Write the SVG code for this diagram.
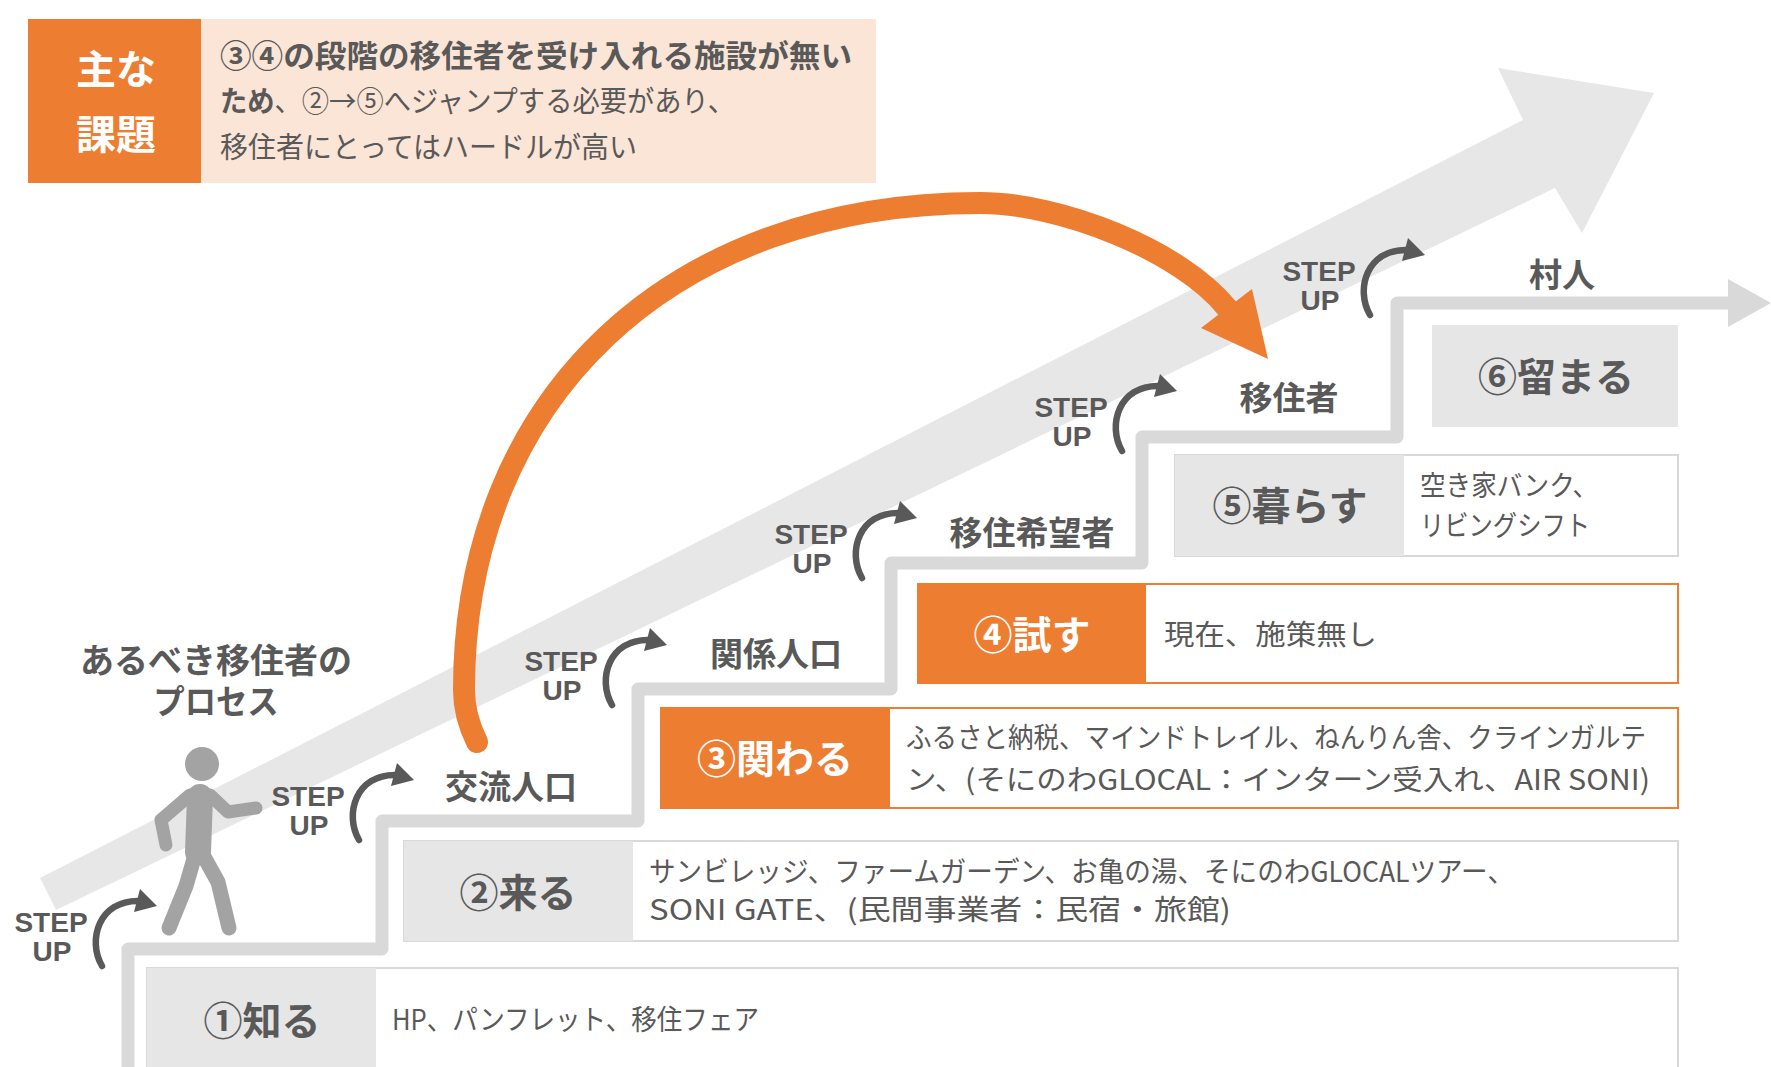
<svg xmlns="http://www.w3.org/2000/svg" xmlns:xlink="http://www.w3.org/1999/xlink" width="1771" height="1067" viewBox="0 0 1771 1067">
<style>
.jp{font-family:'Noto Sans CJK JP','Noto Sans',sans-serif}
.lbl{font-family:'Noto Sans CJK JP',sans-serif;font-weight:bold;font-size:39px;text-anchor:middle}
.stg{font-family:'Noto Sans CJK JP',sans-serif;font-weight:bold;font-size:33px;fill:#595959;text-anchor:middle}
.desc{font-family:'Noto Sans CJK JP',sans-serif;font-size:28px;fill:#595959}
.su{font-family:'Liberation Sans',Arial,sans-serif;font-weight:bold;font-size:28px;fill:#595959;text-anchor:middle}
.gbox{fill:#E6E6E6}
.wbox{fill:#FFFFFF;stroke:#D9D9D9;stroke-width:2}
.obox{fill:#ED7D31}
.owbox{fill:#FFFFFF;stroke:#ED7D31;stroke-width:2}
.sarr{fill:none;stroke:#595959;stroke-width:6.5;stroke-linecap:round}
</style>
<defs>
<g id="stepArrow">
<path class="sarr" d="M51,44 C36,18 48,-22 88,-21"/>
<polygon points="89,-33 106,-16 83,-10" fill="#595959"/>
</g>
</defs>
<rect width="1771" height="1067" fill="#FFFFFF"/>

<g id="band">
<polygon points="40,878 1523,120 1498,68 1654,93 1582,233 1555,188 56,910" fill="#E7E7E7"/>
</g>

<g id="stairs">
<path d="M128,1075 L128,949 L382,949 L382,821 L638,821 L638,689 L891,689 L891,563 L1142,563 L1142,437 L1397,437 L1397,303 L1735,303" fill="none" stroke="#D9D9D9" stroke-width="13" stroke-linejoin="round"/>
<polygon points="1728,279 1771,303 1728,327" fill="#D9D9D9"/>
</g>

<g id="issue">
<rect x="28" y="19" width="173" height="164" fill="#ED7D31"/>
<rect x="201" y="19" width="675" height="164" fill="#FBE5D6"/>
<text class="jp" x="116" y="84" font-size="40" font-weight="bold" fill="#FFFFFF" text-anchor="middle">主な</text>
<text class="jp" x="116" y="149" font-size="40" font-weight="bold" fill="#FFFFFF" text-anchor="middle">課題</text>
<text class="jp" x="220" y="67" font-size="31" font-weight="bold" fill="#595959" textLength="632" lengthAdjust="spacingAndGlyphs">③④の段階の移住者を受け入れる施設が無い</text>
<text class="jp" x="220" y="112" font-size="29" fill="#595959" textLength="515" lengthAdjust="spacingAndGlyphs"><tspan font-weight="bold">ため</tspan>、②→⑤へジャンプする必要があり、</text>
<text class="jp" x="220" y="158" font-size="29" fill="#595959" textLength="417" lengthAdjust="spacingAndGlyphs">移住者にとってはハードルが高い</text>
</g>

<g id="process-title">
<text class="jp" x="216" y="673" font-size="34" font-weight="bold" fill="#595959" text-anchor="middle">あるべき移住者の</text>
<text class="jp" x="216" y="714" font-size="34" font-weight="bold" fill="#595959" text-anchor="middle" textLength="125" lengthAdjust="spacingAndGlyphs">プロセス</text>
</g>

<g id="step1">
<rect class="wbox" x="147" y="968" width="1531" height="110"/>
<rect class="gbox" x="147" y="968" width="229" height="110"/>
<text class="lbl" x="262" y="1035" fill="#595959">①知る</text>
<text class="desc" x="392" y="1030" textLength="367" lengthAdjust="spacingAndGlyphs">HP、パンフレット、移住フェア</text>
</g>

<g id="step2">
<rect class="wbox" x="404" y="841" width="1274" height="100"/>
<rect class="gbox" x="404" y="841" width="229" height="100"/>
<text class="lbl" x="518" y="907" fill="#595959">②来る</text>
<text class="desc" x="649" y="882" textLength="865" lengthAdjust="spacingAndGlyphs">サンビレッジ、ファームガーデン、お亀の湯、そにのわGLOCALツアー、</text>
<text class="desc" x="649" y="920" textLength="582" lengthAdjust="spacingAndGlyphs">SONI GATE、(民間事業者：民宿・旅館)</text>
</g>

<g id="step3">
<rect class="owbox" x="661" y="708" width="1017" height="100"/>
<rect class="obox" x="661" y="708" width="229" height="100"/>
<text class="lbl" x="775" y="773" fill="#FFFFFF">③関わる</text>
<text class="desc" x="906" y="748" textLength="740" lengthAdjust="spacingAndGlyphs">ふるさと納税、マインドトレイル、ねんりん舎、クラインガルテ</text>
<text class="desc" x="906" y="790" textLength="744" lengthAdjust="spacingAndGlyphs">ン、(そにのわGLOCAL：インターン受入れ、AIR SONI)</text>
</g>

<g id="step4">
<rect class="owbox" x="918" y="584" width="760" height="99"/>
<rect class="obox" x="918" y="584" width="228" height="99"/>
<text class="lbl" x="1032" y="649" fill="#FFFFFF">④試す</text>
<text class="desc" x="1164" y="645" textLength="213" lengthAdjust="spacingAndGlyphs">現在、施策無し</text>
</g>

<g id="step5">
<rect class="wbox" x="1175" y="455" width="503" height="101"/>
<rect class="gbox" x="1175" y="455" width="229" height="101"/>
<text class="lbl" x="1290" y="520" fill="#595959">⑤暮らす</text>
<text class="desc" x="1420" y="496" textLength="178" lengthAdjust="spacingAndGlyphs">空き家バンク、</text>
<text class="desc" x="1420" y="536" textLength="170" lengthAdjust="spacingAndGlyphs">リビングシフト</text>
</g>

<g id="step6">
<rect class="gbox" x="1432" y="325" width="246" height="102"/>
<text class="lbl" x="1556" y="391" fill="#595959">⑥留まる</text>
</g>

<g id="stage-labels">
<text class="stg" x="511" y="799">交流人口</text>
<text class="stg" x="776" y="666">関係人口</text>
<text class="stg" x="1032" y="545">移住希望者</text>
<text class="stg" x="1289" y="410">移住者</text>
<text class="stg" x="1562" y="287">村人</text>
</g>

<g id="person" fill="#A3A3A3" stroke="#A3A3A3" stroke-linecap="round" stroke-linejoin="round">
<circle cx="202" cy="764" r="17" stroke="none"/>
<path d="M200,797 L198,852" fill="none" stroke-width="26"/>
<path d="M190,795 L161,820 L166,845" fill="none" stroke-width="13"/>
<path d="M210,795 L228,812 L256,808" fill="none" stroke-width="13"/>
<path d="M195,855 L186,886 L169,928" fill="none" stroke-width="15"/>
<path d="M203,855 L218,882 L229,928" fill="none" stroke-width="15"/>
</g>

<g id="step-ups">
<g transform="translate(51,922)"><use xlink:href="#stepArrow" href="#stepArrow"/><text class="su" x="0" y="10">STEP</text><text class="su" x="1" y="39">UP</text></g>
<g transform="translate(308,796)"><use xlink:href="#stepArrow" href="#stepArrow"/><text class="su" x="0" y="10">STEP</text><text class="su" x="1" y="39">UP</text></g>
<g transform="translate(561,661)"><use xlink:href="#stepArrow" href="#stepArrow"/><text class="su" x="0" y="10">STEP</text><text class="su" x="1" y="39">UP</text></g>
<g transform="translate(811,534)"><use xlink:href="#stepArrow" href="#stepArrow"/><text class="su" x="0" y="10">STEP</text><text class="su" x="1" y="39">UP</text></g>
<g transform="translate(1071,407)"><use xlink:href="#stepArrow" href="#stepArrow"/><text class="su" x="0" y="10">STEP</text><text class="su" x="1" y="39">UP</text></g>
<g transform="translate(1319,271)"><use xlink:href="#stepArrow" href="#stepArrow"/><text class="su" x="0" y="10">STEP</text><text class="su" x="1" y="39">UP</text></g>
</g>

<g id="connectors">
<path d="M477,742 C470,728 464,710 464,690 C464,398 670,203 980,203 C1060,203 1180,250 1227,308" fill="none" stroke="#ED7D31" stroke-width="22" stroke-linecap="round"/>
<polygon points="1252,289 1268,359 1201,328" fill="#ED7D31"/>
</g>
</svg>
